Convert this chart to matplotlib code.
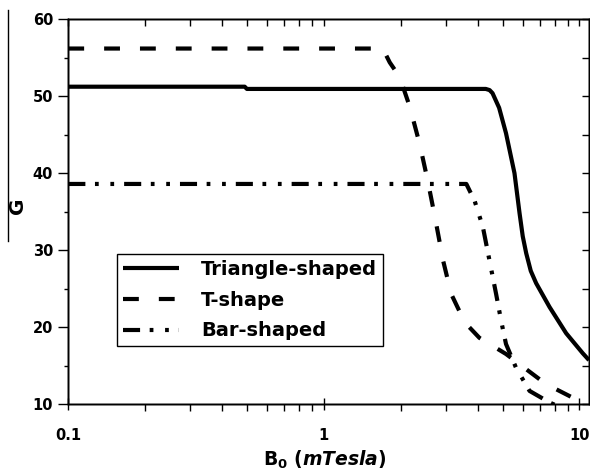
import matplotlib
matplotlib.use("Agg")
import matplotlib.pyplot as plt
from matplotlib.lines import Line2D
from matplotlib.ticker import FixedLocator, LogLocator, NullFormatter, MultipleLocator, FuncFormatter

plt.rcParams['font.family'] = ['DejaVu Sans']
plt.rcParams['font.weight'] = 'bold'
plt.rcParams['mathtext.fontset'] = 'custom'
plt.rcParams['mathtext.rm'] = 'DejaVu Sans:bold'
plt.rcParams['mathtext.it'] = 'DejaVu Sans:bold:italic'
plt.rcParams['mathtext.bf'] = 'DejaVu Sans:bold'

# ---- data ----
tri_x = [0.1, 0.49, 0.5, 4.3, 4.45, 4.57, 4.85, 5.16, 5.57, 5.83, 6.0, 6.19, 6.45, 6.77,
         7.64, 8.87, 10.3, 10.9]
tri_g = [51.24, 51.24, 50.95, 50.95, 50.8, 50.4, 48.5, 45.2, 40.0, 34.8, 31.8, 29.6, 27.3, 25.7,
         22.6, 19.2, 16.6, 15.7]

t_x = [0.1, 1.70, 1.81, 1.98, 2.17, 2.37, 2.55, 2.72, 2.93, 3.15, 3.56, 4.06, 5.16, 7.39, 9.70, 10.5]
t_g = [56.2, 56.2, 54.4, 52.5, 48.6, 43.8, 39.0, 34.3, 28.6, 24.3, 20.6, 18.6, 16.5, 12.6, 10.6, 10.0]

bar_x = [0.1, 3.61, 3.89, 4.19, 4.45, 4.72, 4.94, 5.16, 5.65, 6.38, 7.64, 8.0]
bar_g = [38.6, 38.6, 36.4, 33.0, 28.6, 24.3, 20.8, 17.8, 14.7, 11.7, 10.2, 9.9]

labels = ["Triangle-shaped", "T-shape", "Bar-shaped"]
x_ticks = [0.1, 1, 10]
x_ticklabels = ["0.1", "1", "10"]
y_ticks = [10, 20, 30, 40, 50, 60]

W, H = 590, 470
fig = plt.figure(figsize=(W / 100, H / 100), dpi=100)
ax = fig.add_axes([68.3 / W, 1 - 404 / H, (589 - 68.3) / W, (404 - 19.3) / H])

lw = 3.0
ax.plot(tri_x, tri_g, color='black', lw=lw, solid_capstyle='butt', solid_joinstyle='round',
        label=labels[0])
ax.plot(t_x, t_g, color='black', lw=lw, dashes=(3.8, 4.8), dash_capstyle='butt', label=labels[1])
ax.plot(bar_x, bar_g, color='black', lw=lw, dashes=(4.1, 2.3, 0.9, 2.8, 0.9, 2.4),
        dash_capstyle='butt', label=labels[2])

ax.set_xscale('log')
ax.set_xlim(0.1, 10.9)
ax.set_ylim(10, 60)

ax.xaxis.set_major_locator(FixedLocator(x_ticks))
ax.xaxis.set_major_formatter(FuncFormatter(lambda v, p: x_ticklabels[x_ticks.index(v)] if v in x_ticks else ""))
ax.xaxis.set_minor_locator(LogLocator(base=10, subs=range(2, 10)))
ax.xaxis.set_minor_formatter(NullFormatter())
ax.yaxis.set_major_locator(FixedLocator(y_ticks))
ax.yaxis.set_minor_locator(MultipleLocator(5))

for sp in ax.spines.values():
    sp.set_linewidth(1.0)

ax.tick_params(axis='x', which='major', direction='inout', length=9, width=1, pad=13, labelsize=10.5)
ax.tick_params(axis='x', which='minor', direction='out', length=5, width=1)
ax.tick_params(axis='y', which='major', direction='out', length=7, width=1, pad=4, labelsize=10.5)
ax.tick_params(axis='y', which='minor', direction='out', length=3, width=1)
for lab in ax.get_xticklabels() + ax.get_yticklabels():
    lab.set_fontweight('bold')

# top and right ticks pointing inward
axt = ax.twiny()
axt.set_xscale('log')
axt.set_xlim(ax.get_xlim())
axt.xaxis.set_major_locator(FixedLocator(x_ticks))
axt.xaxis.set_minor_locator(LogLocator(base=10, subs=range(2, 10)))
axt.tick_params(axis='x', which='both', direction='in', length=5, width=1, labeltop=False)
axt.xaxis.set_minor_formatter(NullFormatter())
axr = ax.twinx()
axr.set_ylim(ax.get_ylim())
axr.yaxis.set_major_locator(FixedLocator(y_ticks))
axr.yaxis.set_minor_locator(MultipleLocator(5))
axr.tick_params(axis='y', which='both', direction='in', length=5, width=1, labelright=False)
for a in (axt, axr):
    for sp in a.spines.values():
        sp.set_linewidth(1.0)

# x label
fig.text(325 / W, 1 - 466 / H, r"B$_{\rm 0}$ ($\it mTesla$)", fontsize=13.5, fontweight='bold',
         ha='center', va='baseline')

# y label: G with overbar drawn as a long line
fig.text(17.5 / W, 1 - 205.5 / H, "G", rotation=90, fontsize=14.5, fontweight='bold',
         ha='center', va='center')
fig.add_artist(Line2D([8.3 / W, 8.3 / W], [1 - 10 / H, 1 - 241 / H], color='black', lw=1.0,
                      transform=fig.transFigure))

leg = ax.legend(loc='upper left', bbox_to_anchor=(116.7 / W, 1 - 254.3 / H),
                bbox_transform=fig.transFigure, borderaxespad=0, fancybox=False,
                framealpha=1, edgecolor='black', prop={'weight': 'bold', 'size': 14},
                handlelength=2.9, handletextpad=1.15, borderpad=0.3, labelspacing=0.6)
leg.get_frame().set_linewidth(1.0)
leg.set_zorder(10)

fig.savefig("out.png", dpi=100)
